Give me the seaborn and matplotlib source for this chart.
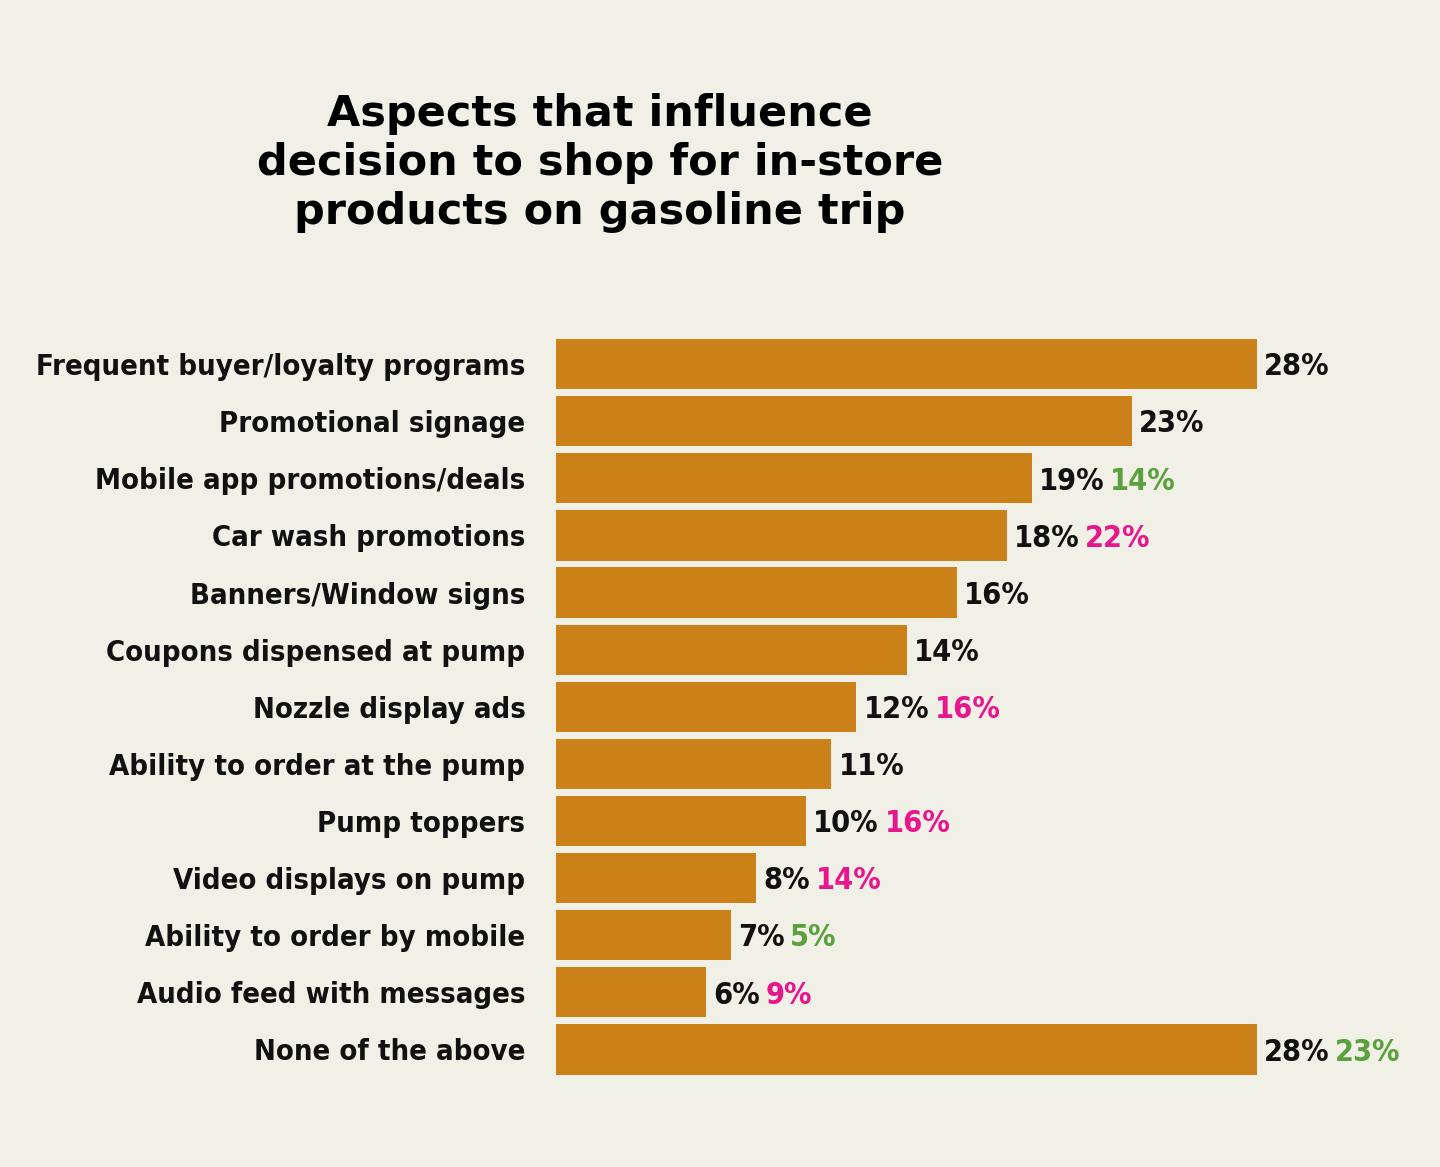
import matplotlib
matplotlib.use("Agg")
import matplotlib.pyplot as plt
import seaborn as sns
import pandas as pd

categories = ["Frequent buyer/loyalty programs", "Promotional signage", "Mobile app promotions/deals",
              "Car wash promotions", "Banners/Window signs", "Coupons dispensed at pump",
              "Nozzle display ads", "Ability to order at the pump", "Pump toppers",
              "Video displays on pump", "Ability to order by mobile", "Audio feed with messages",
              "None of the above"]
values = [28, 23, 19, 18, 16, 14, 12, 11, 10, 8, 7, 6, 28]
second_values = [None, None, 14, 22, None, None, 16, None, 16, 14, 5, 9, 23]
second_kind = [None, None, "up", "down", None, None, "down", None, "down", "down", "up", "down", "up"]

BG = "#f1f0e6"
BAR = "#cc8018"
GREEN = "#5aa03c"
PINK = "#e8158c"
FONT = ["DejaVu Sans"]

df = pd.DataFrame({"cat": categories, "val": values})
fig = plt.figure(figsize=(14.4, 11.67), dpi=100, facecolor=BG)
ax = fig.add_axes([556/1440, 1-1078/1167, 1-556/1440, (1078-335.5)/1167])
ax.set_facecolor(BG)
sns.barplot(data=df, x="val", y="cat", color=BAR, width=0.88, saturation=1, ax=ax)
ax.set_xlim(0, (1440-556)/25.04)
ax.set_ylim(12.5, -0.5)
for s in ax.spines.values():
    s.set_visible(False)
ax.set_xticks([])
ax.set_xlabel(""); ax.set_ylabel("")
ax.tick_params(axis="y", length=0, pad=22)
ax.set_yticks(range(len(categories)))
ax.set_yticklabels(categories, fontsize=21, fontfamily=FONT, fontweight="bold",
                   fontstretch="condensed", color="#111111")

for i, (v, s2, k) in enumerate(zip(values, second_values, second_kind)):
    t1 = ax.annotate(f"{v}%", xy=(v, i), xytext=(5, -2), textcoords="offset points",
                     va="center", ha="left", fontsize=22, fontfamily=FONT,
                     fontweight="bold", fontstretch="condensed", color="#111111")
    if s2 is not None:
        ax.annotate(f"{s2}%", xy=(1, 0.5), xycoords=t1, xytext=(4, 0), textcoords="offset points",
                    va="center", ha="left", fontsize=22, fontfamily=FONT, fontweight="bold",
                    fontstretch="condensed", color=GREEN if k == "up" else PINK)

fig.text(600/1440, 1-163/1167, "Aspects that influence\ndecision to shop for in-store\nproducts on gasoline trip",
         ha="center", va="center", fontsize=31, fontweight="heavy", fontfamily="DejaVu Sans",
         linespacing=1.2, color="#000000")
fig.savefig("out.png", dpi=100, facecolor=BG)
